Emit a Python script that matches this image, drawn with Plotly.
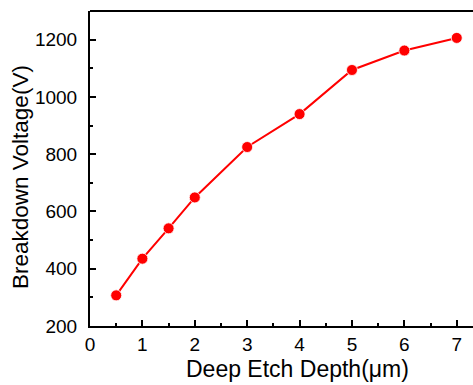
import plotly.graph_objects as go

depth = [0.5, 1, 1.5, 2, 3, 4, 5, 6, 7]
voltage = [307, 435, 541, 649, 825, 940, 1094, 1162, 1206]
x_ticks = [0, 1, 2, 3, 4, 5, 6, 7]
y_ticks = [200, 400, 600, 800, 1000, 1200]
x_title = "Deep Etch Depth(\u03bcm)"
y_title = "Breakdown Voltage(V)"

FONT = "Arial, 'Liberation Sans', sans-serif"

fig = go.Figure()
fig.add_trace(go.Scatter(
    x=depth, y=voltage, mode="lines+markers",
    line=dict(color="#ff0000", width=2),
    marker=dict(color="#ff0000", size=11, line=dict(color="white", width=0.8)),
    showlegend=False, cliponaxis=False,
))

L, R, T, B = 90, 0, 11, 59
W, H = 473, 385
pw, ph = W - L - R, H - T - B

fig.update_layout(
    width=W, height=H,
    margin=dict(l=L, r=R, t=T, b=B, pad=0),
    paper_bgcolor="white", plot_bgcolor="white",
    font=dict(family=FONT, color="black", size=19),
    xaxis=dict(
        range=[0, 7.31], tickvals=x_ticks, ticktext=[str(v) for v in x_ticks],
        showgrid=False, zeroline=False,
        showline=True, linecolor="black", linewidth=2,
        ticks="inside", ticklen=6, tickwidth=2, tickcolor="black",
        minor=dict(tickvals=[0.5, 1.5, 2.5, 3.5, 4.5, 5.5, 6.5], ticks="inside",
                   ticklen=3, tickwidth=2, tickcolor="black"),
        tickfont=dict(size=19), ticklabelstandoff=0,
    ),
    yaxis=dict(
        range=[200, 1300], tickvals=y_ticks, ticktext=[str(v) for v in y_ticks],
        showgrid=False, zeroline=False,
        showline=True, linecolor="black", linewidth=2,
        ticks="inside", ticklen=6, tickwidth=2, tickcolor="black",
        minor=dict(tickvals=[300, 500, 700, 900, 1100], ticks="inside",
                   ticklen=3, tickwidth=2, tickcolor="black"),
        tickfont=dict(size=19), ticklabelstandoff=7,
    ),
    shapes=[dict(type="line", xref="paper", yref="paper", x0=0, x1=1, y0=1, y1=1,
                 line=dict(color="black", width=2))],
    annotations=[
        dict(text=x_title, xref="paper", yref="paper",
             x=(297.5 - L) / pw, y=(326 - 369) / ph, xanchor="center", yanchor="middle",
             showarrow=False, font=dict(size=23, family=FONT)),
        dict(text=y_title, xref="paper", yref="paper", textangle=-90,
             x=(20 - L) / pw, y=(326 - 177) / ph, xanchor="center", yanchor="middle",
             showarrow=False, font=dict(size=22.5, family=FONT)),
    ],
)

fig.write_html("out.html")
